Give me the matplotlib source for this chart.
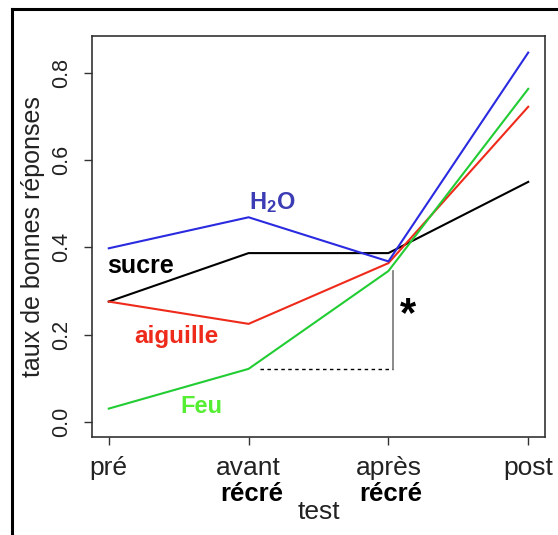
from matplotlib import pyplot as plt
from matplotlib.lines import Line2D
from matplotlib.transforms import blended_transform_factory

plt.rcParams['font.family'] = ['Liberation Sans', 'DejaVu Sans']
plt.rcParams['mathtext.fontset'] = 'custom'
plt.rcParams['mathtext.rm'] = 'Liberation Sans'
plt.rcParams['mathtext.bf'] = 'Liberation Sans:bold'

tests = ["pré", "avant", "après", "post"]
sub_labels = ["", "récré", "récré", ""]
x = [1, 2, 3, 4]

h2o = [0.398, 0.469, 0.368, 0.846]
sucre = [0.276, 0.387, 0.387, 0.550]
aiguille = [0.276, 0.225, 0.364, 0.722]
feu = [0.031, 0.122, 0.346, 0.763]

fig = plt.figure(figsize=(5.58, 5.35), dpi=100)
ax = fig.add_axes([92 / 558, 1 - 437 / 535, 453 / 558, 401 / 535])

ax.plot(x, sucre, color='black', lw=1.5)
ax.plot(x, aiguille, color='#ee2a1a', lw=1.5)
ax.plot(x, feu, color='#22cc33', lw=1.5)
ax.plot(x, h2o, color='#2a2ae0', lw=1.5)

# significance marker between avant and apres for Feu
ax.plot([2.08, 3.03], [feu[1], feu[1]], color='black', lw=1, ls=(0, (2.5, 2.5)))
ax.plot([3.03, 3.03], [feu[1], feu[2]], color='#777777', lw=1.2)
ax.text(3.08, 0.245, "*", fontsize=30, fontweight='bold', ha='left', va='center')

# series names
ax.text(2.17, 0.503, r'$\mathbf{H_2O}$', color='#3c3cb4', fontsize=17, ha='center', va='center')
ax.text(1.23, 0.357, "sucre", color='black', fontsize=18, fontweight='bold', ha='center', va='center')
ax.text(1.48, 0.196, "aiguille", color='#ee2a1a', fontsize=17.5, fontweight='bold', ha='center', va='center')
ax.text(1.66, 0.036, "Feu", color='#55ee33', fontsize=17, fontweight='bold', ha='center', va='center')

ax.set_xlim(0.88, 4.12)
ax.set_ylim(-0.034, 0.884)
ax.set_xticks(x)
ax.set_xticklabels(tests, fontsize=19, color='#222222')
ax.set_yticks([0.0, 0.2, 0.4, 0.6, 0.8])
ax.set_yticklabels(["0.0", "0.2", "0.4", "0.6", "0.8"], fontsize=15.5, rotation=90,
                   va='center', color='#222222')
ax.tick_params(axis='x', length=6, width=1, pad=8, color='#333333')
ax.tick_params(axis='y', length=6, width=1, pad=8, color='#333333')

trans = blended_transform_factory(ax.transData, ax.transAxes)
for xi, lab in zip(x, sub_labels):
    if lab:
        ax.text(xi + 0.02, -0.142, lab, transform=trans, fontsize=18.5, fontweight='bold',
                ha='center', va='center')

ax.set_xlabel("test", fontsize=19, color='#222222', labelpad=14)
ax.set_ylabel("taux de bonnes réponses", fontsize=18, color='#222222', labelpad=5)

for s in ax.spines.values():
    s.set_color('#333333')
    s.set_linewidth(1.2)

# outer frame (cropped at the right and bottom)
fig.add_artist(Line2D([12 / 558, 12 / 558], [0, 1 - 8.5 / 535], color='black', lw=2.2,
                      transform=fig.transFigure))
fig.add_artist(Line2D([12 / 558, 1], [1 - 8.5 / 535, 1 - 8.5 / 535], color='black', lw=2.2,
                      transform=fig.transFigure))

fig.savefig("out.png", dpi=100)
